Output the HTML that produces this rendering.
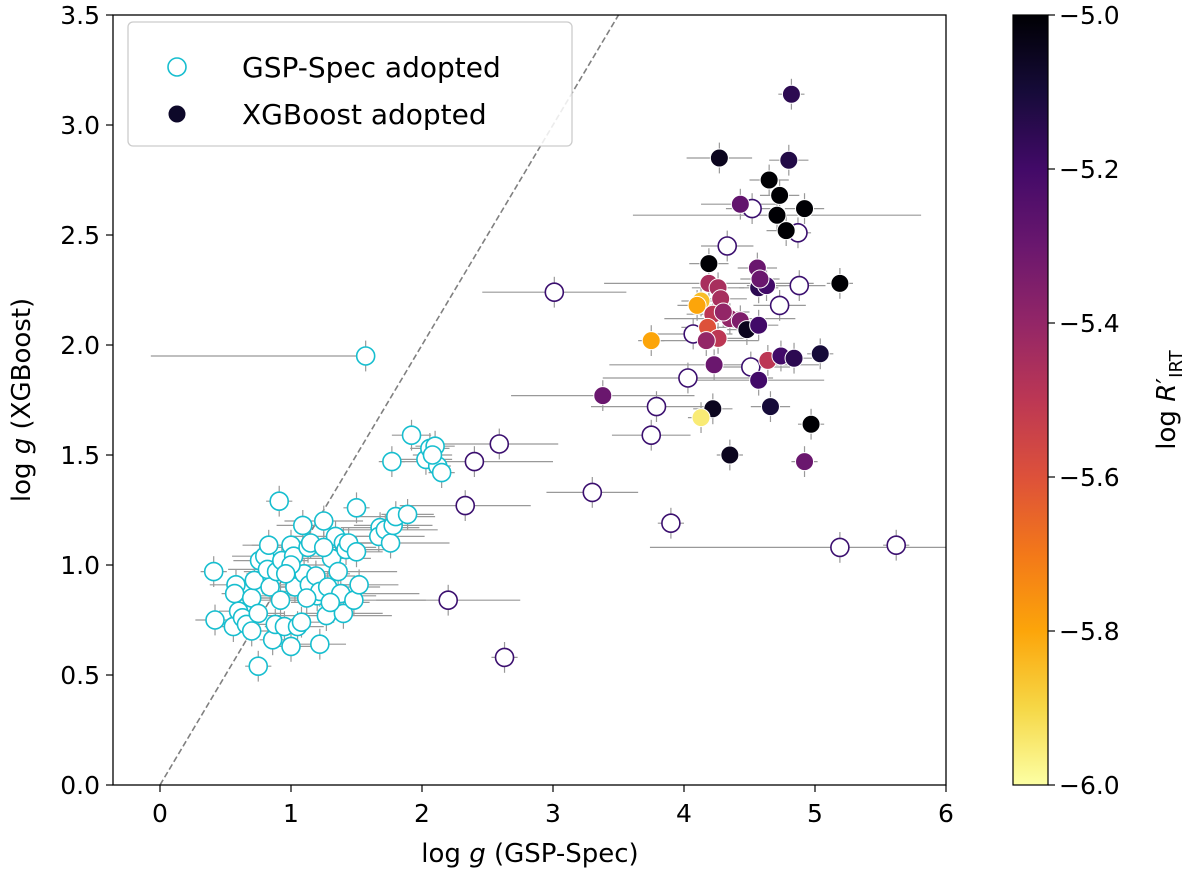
<!DOCTYPE html>
<html><head><meta charset="utf-8"><style>
body{margin:0;background:#fff;}
svg text{font-family:"DejaVu Sans","Liberation Sans",sans-serif;fill:#000;}
</style></head><body>
<svg id="chart" width="1200" height="885" viewBox="0 0 1200 885" xmlns="http://www.w3.org/2000/svg">
<defs>
<linearGradient id="inferno" x1="0" y1="1" x2="0" y2="0">
<stop offset="0" stop-color="#fcffa4"/><stop offset="0.1" stop-color="#f6d746"/><stop offset="0.2" stop-color="#fca50a"/><stop offset="0.3" stop-color="#f37819"/><stop offset="0.4" stop-color="#dd513a"/><stop offset="0.5" stop-color="#bc3754"/><stop offset="0.6" stop-color="#932667"/><stop offset="0.7" stop-color="#6a176e"/><stop offset="0.8" stop-color="#420a68"/><stop offset="0.9" stop-color="#160b39"/><stop offset="1" stop-color="#000004"/>
</linearGradient>
<clipPath id="clip"><rect x="113" y="15" width="833" height="770"/></clipPath>
</defs>
<g id="errs" clip-path="url(#clip)"></g>
<g id="marks" clip-path="url(#clip)"></g>
<g id="axes"></g>
</svg>
<script>
const cyanX=[0.41,0.42,0.56,0.58,0.57,0.60,0.63,0.66,0.70,0.70,0.75,0.75,0.72,0.76,0.80,0.82,0.83,0.84,0.86,0.88,0.89,0.92,0.93,0.95,1.00,1.02,1.00,1.03,1.05,1.08,0.91,1.09,1.10,1.13,1.15,1.14,1.19,1.20,1.22,1.22,1.25,1.27,1.28,1.31,1.34,1.36,1.38,1.40,1.40,1.42,1.44,1.48,1.50,1.52,1.50,1.68,1.67,1.72,1.76,1.78,1.80,1.89,1.77,1.92,2.03,2.06,2.10,2.12,2.15,2.08,1.57,1.00,1.25,0.96,1.12,1.30];
const cyanY=[0.97,0.75,0.72,0.91,0.87,0.79,0.76,0.73,0.70,0.85,0.54,0.78,0.93,1.02,1.04,0.98,1.09,0.90,0.66,0.73,0.97,0.84,1.02,0.72,1.09,1.04,0.63,0.90,0.72,0.74,1.29,1.18,0.96,1.08,1.10,0.91,0.95,0.86,0.88,0.64,1.20,0.77,0.90,1.03,1.13,0.97,0.87,0.78,1.10,1.07,1.10,0.84,1.06,0.91,1.26,1.17,1.13,1.16,1.10,1.18,1.22,1.23,1.47,1.59,1.48,1.53,1.54,1.45,1.42,1.50,1.95,1.00,1.08,0.96,0.85,0.83];
const cyanXerr=[0.1,0.15,0.1,0.2,0.1,0.15,0.1,0.1,0.2,0.15,0.1,0.2,0.15,0.2,0.25,0.3,0.2,0.15,0.1,0.2,0.25,0.3,0.2,0.15,0.3,0.2,0.15,0.3,0.2,0.25,0.1,0.2,0.35,0.3,0.2,0.4,0.3,0.45,0.35,0.2,0.3,0.5,0.4,0.3,0.35,0.45,0.6,0.3,0.3,0.35,0.3,0.55,0.2,0.3,0.1,0.3,0.35,0.4,0.45,0.3,0.3,0.2,0.1,0.15,0.2,0.15,0.15,0.1,0.1,0.15,1.64,0.3,0.4,0.3,0.4,0.3];
const cyanXerrHi=[0.1,0.15,0.1,0.2,0.1,0.15,0.1,0.1,0.2,0.15,0.1,0.2,0.15,0.2,0.25,0.3,0.2,0.15,0.1,0.2,0.25,0.3,0.2,0.15,0.3,0.2,0.15,0.3,0.2,0.25,0.1,0.2,0.35,0.3,0.2,0.4,0.3,0.45,0.35,0.2,0.3,0.5,0.4,0.3,0.35,0.45,0.6,0.3,0.3,0.35,0.3,0.55,0.2,0.3,0.1,0.3,0.35,0.4,0.45,0.3,0.3,0.2,0.1,0.15,0.2,0.15,0.15,0.1,0.1,0.15,0.05,0.3,0.4,0.3,0.4,0.3];
const openX=[3.01,2.40,2.59,2.33,2.20,2.63,3.30,3.75,3.79,3.90,4.03,4.07,4.33,4.51,4.52,4.73,4.88,4.87,5.19,5.62];
const openY=[2.24,1.47,1.55,1.27,0.84,0.58,1.33,1.59,1.72,1.19,1.85,2.05,2.45,1.90,2.62,2.18,2.27,2.51,1.08,1.09];
const openXerr=[0.55,0.6,0.45,0.5,0.55,0.1,0.35,0.3,0.5,0.1,0.65,0.3,0.2,0.3,0.2,0.2,0.2,0.1,1.45,0.1];
const fillX=[4.27,4.80,4.82,4.65,4.73,4.71,4.92,4.78,4.43,4.19,4.56,4.57,4.63,4.58,5.19,4.19,4.26,4.28,4.13,4.10,4.35,4.43,4.22,4.30,4.18,4.48,4.57,4.26,4.17,3.75,4.23,4.64,4.74,4.84,5.04,4.57,3.38,4.22,4.66,4.13,4.35,4.97,4.92];
const fillY=[2.85,2.84,3.14,2.75,2.68,2.59,2.62,2.52,2.64,2.37,2.35,2.26,2.27,2.30,2.28,2.28,2.26,2.21,2.20,2.18,2.12,2.11,2.14,2.15,2.08,2.07,2.09,2.03,2.02,2.02,1.91,1.93,1.95,1.94,1.96,1.84,1.77,1.71,1.72,1.67,1.50,1.64,1.47];
const fillC=[-5.05,-5.13,-5.15,-5.0,-5.0,-5.0,-5.0,-5.0,-5.28,-5.0,-5.3,-5.15,-5.2,-5.3,-5.0,-5.45,-5.45,-5.45,-5.85,-5.8,-5.4,-5.35,-5.5,-5.4,-5.6,-5.05,-5.2,-5.5,-5.4,-5.8,-5.3,-5.5,-5.2,-5.15,-5.1,-5.2,-5.3,-5.05,-5.1,-5.95,-5.05,-5.0,-5.3];
const fillXerr=[0.25,0.15,0.1,0.15,0.15,1.1,0.15,0.15,0.3,0.15,0.15,0.15,0.15,0.15,0.1,0.8,0.2,0.2,0.15,0.15,0.5,0.2,0.2,0.2,0.2,0.15,0.15,0.2,0.4,0.1,0.8,0.15,0.15,0.15,0.1,0.5,0.7,0.15,0.15,0.1,0.1,0.1,0.1];
const xTicks=[0,1,2,3,4,5,6];
const yTicks=[0.0,0.5,1.0,1.5,2.0,2.5,3.0,3.5];
const cTicks=[-5.0,-5.2,-5.4,-5.6,-5.8,-6.0];

const NS="http://www.w3.org/2000/svg";
const X=v=>160+v*131, Y=v=>785-v*220, CY=v=>15+(-5-v)*770;
const YERR=0.07;
function mk(tag,attrs,parent){const e=document.createElementNS(NS,tag);for(const k in attrs)e.setAttribute(k,attrs[k]);parent.appendChild(e);return e;}
const stops=[[0,"#000004"],[.1,"#160b39"],[.2,"#420a68"],[.3,"#6a176e"],[.4,"#932667"],[.5,"#bc3754"],[.6,"#dd513a"],[.7,"#f37819"],[.8,"#fca50a"],[.9,"#f6d746"],[1,"#fcffa4"]];
function hex(h){return [1,3,5].map(i=>parseInt(h.substr(i,2),16));}
function inferno(c){let t=Math.max(0,Math.min(1,-5-c));for(let i=0;i<stops.length-1;i++){if(t<=stops[i+1][0]){const f=(t-stops[i][0])/(stops[i+1][0]-stops[i][0]);const a=hex(stops[i][1]),b=hex(stops[i+1][1]);return `rgb(${a.map((v,j)=>Math.round(v+(b[j]-v)*f)).join(",")})`;}}return stops[10][1];}
const errs=document.getElementById('errs'), marks=document.getElementById('marks'), axes=document.getElementById('axes');
const diag=mk('line',{x1:X(0),y1:Y(0),x2:X(3.5),y2:Y(3.5),stroke:'#808080','stroke-width':1.6,'stroke-dasharray':'6,3'},errs);


function err(x,y,xlo,xhi,name){
  const l1=mk('line',{x1:X(x-xlo),y1:Y(y),x2:X(x+xhi),y2:Y(y),stroke:'#999','stroke-width':1.2},errs);
  
  
  const l2=mk('line',{x1:X(x),y1:Y(y-YERR),x2:X(x),y2:Y(y+YERR),stroke:'#999','stroke-width':1.2},errs);
  
  
}
cyanX.forEach((x,i)=>err(x,cyanY[i],cyanXerr[i],cyanXerrHi[i],'gsp-point'));
openX.forEach((x,i)=>err(x,openY[i],openXerr[i],openXerr[i],'open-point'));
fillX.forEach((x,i)=>err(x,fillY[i],fillXerr[i],fillXerr[i],'xgb-point'));
cyanX.forEach((x,i)=>{const c=mk('circle',{cx:X(x),cy:Y(cyanY[i]),r:9,fill:'#fff',stroke:'#17becf','stroke-width':1.6},marks);
  
  });
openX.forEach((x,i)=>{const c=mk('circle',{cx:X(x),cy:Y(openY[i]),r:9,fill:'#fff',stroke:'#3b0f6f','stroke-width':1.6},marks);
  
  });
fillX.forEach((x,i)=>{const c=mk('circle',{cx:X(x),cy:Y(fillY[i]),r:9,fill:inferno(fillC[i]),stroke:'#fff','stroke-width':1},marks);
  
  });
const fr=mk('rect',{x:113,y:15,width:833,height:770,fill:'none',stroke:'#000','stroke-width':1.3},axes);


xTicks.forEach(v=>{mk('line',{x1:X(v),y1:785,x2:X(v),y2:792,stroke:'#000','stroke-width':1.2},axes);
  const t=mk('text',{x:X(v),y:822,'font-size':25,'text-anchor':'middle'},axes);t.textContent=v;
  
  });
yTicks.forEach(v=>{mk('line',{x1:106,y1:Y(v),x2:113,y2:Y(v),stroke:'#000','stroke-width':1.2},axes);
  const t=mk('text',{x:100,y:Y(v)+9,'font-size':25,'text-anchor':'end'},axes);t.textContent=v.toFixed(1);
  
  });
const cb=mk('rect',{x:1013,y:15,width:35,height:770,fill:'url(#inferno)',stroke:'#000','stroke-width':1.2},axes);


cTicks.forEach(v=>{mk('line',{x1:1048,y1:CY(v),x2:1055,y2:CY(v),stroke:'#000','stroke-width':1.2},axes);
  const t=mk('text',{x:1059,y:CY(v)+9,'font-size':25},axes);t.textContent='\u2212'+Math.abs(v).toFixed(1);
  
  });
</script>
<svg style="position:absolute;left:0;top:0" width="1200" height="885" xmlns="http://www.w3.org/2000/svg">
<text x="530" y="862" font-size="26" text-anchor="middle" style="font-family:'DejaVu Sans',sans-serif">log <tspan font-style="italic">g</tspan> (GSP-Spec)</text>
<text transform="translate(30,400) rotate(-90)" font-size="26" text-anchor="middle" style="font-family:'DejaVu Sans',sans-serif">log <tspan font-style="italic">g</tspan> (XGBoost)</text>
<text transform="translate(1175,400) rotate(-90)" font-size="26" text-anchor="middle" style="font-family:'DejaVu Sans',sans-serif">log <tspan font-style="italic">R</tspan>′<tspan font-size="18" dy="7">IRT</tspan></text>
<g>
<rect x="128" y="22" width="444" height="124" rx="5" fill="#fff" fill-opacity="0.85" stroke="#ccc" stroke-width="1.3"/>
<circle cx="177" cy="67" r="9" fill="#fff" stroke="#17becf" stroke-width="1.6"/>
<text x="242" y="77" font-size="28" style="font-family:'DejaVu Sans',sans-serif">GSP-Spec adopted</text>
<circle cx="177" cy="114" r="9" fill="#0d0829" stroke="#fff" stroke-width="1"/>
<text x="242" y="124" font-size="28" style="font-family:'DejaVu Sans',sans-serif">XGBoost adopted</text>
</g>
</svg>
</body></html>
